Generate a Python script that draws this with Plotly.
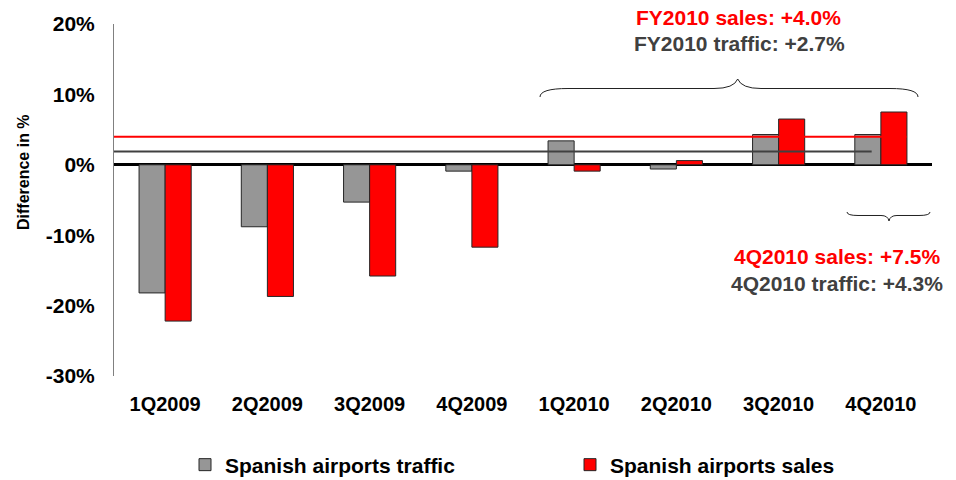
import plotly.graph_objects as go

# ---------------- data ----------------
categories = ["1Q2009", "2Q2009", "3Q2009", "4Q2009", "1Q2010", "2Q2010", "3Q2010", "4Q2010"]
traffic = [-18.2, -8.8, -5.3, -0.9, 3.4, -0.6, 4.3, 4.3]
sales = [-22.2, -18.7, -15.8, -11.7, -0.9, 0.6, 6.5, 7.5]
fy_sales_line = 4.0
fy_traffic_line = 1.9
y_tickvals = [-30, -20, -10, 0, 10, 20]
y_ticktext = ["-30%", "-20%", "-10%", "0%", "10%", "20%"]
series_names = ["Spanish airports traffic", "Spanish airports sales"]
fy_texts = ["FY2010 sales: +4.0%", "FY2010 traffic: +2.7%"]
q4_texts = ["4Q2010 sales: +7.5%", "4Q2010 traffic: +4.3%"]

# ---------------- layout geometry ----------------
W, H = 956, 480
ML, MR, MT, MB = 114, 24, 24, 104
PW, PH = W - ML - MR, H - MT - MB

def px(x):
    return (x - ML) / PW

def py(y):
    return (H - MB - y) / PH

FONT = "Liberation Sans, Arial, sans-serif"
RED = "#FF0000"
DARK = "#404040"

fig = go.Figure()
fig.add_trace(go.Bar(x=categories, y=traffic, name=series_names[0],
                     marker=dict(color="#969696", line=dict(color="#262626", width=1))))
fig.add_trace(go.Bar(x=categories, y=sales, name=series_names[1],
                     marker=dict(color=RED, line=dict(color="#262626", width=1))))

# reference lines (category index coordinates)
fig.add_shape(type="line", xref="x", yref="y", x0=-0.5, x1=7.25,
              y0=fy_sales_line, y1=fy_sales_line, line=dict(color=RED, width=2), layer="above")
fig.add_shape(type="line", xref="x", yref="y", x0=-0.5, x1=6.91,
              y0=fy_traffic_line, y1=fy_traffic_line, line=dict(color=DARK, width=2), layer="above")

def brace_path(pts):
    parts = []
    for cmd, coords in pts:
        s = " ".join(f"{px(a):.5f},{py(b):.5f}" for a, b in coords)
        parts.append(f"{cmd} {s}")
    return " ".join(parts)

big = [("M", [(540, 97)]), ("Q", [(540, 88.5), (568, 88.5)]), ("L", [(714, 88.5)]),
       ("Q", [(734, 88.5), (737.7, 79)]), ("Q", [(741.5, 88.5), (761, 88.5)]),
       ("L", [(890, 88.5)]), ("Q", [(918, 88.5), (918, 97)])]
small = [("M", [(847, 212)]), ("Q", [(847, 215.5), (858, 215.5)]), ("L", [(881, 215.5)]),
         ("Q", [(888, 215.5), (889, 221)]), ("Q", [(890, 215.5), (897, 215.5)]),
         ("L", [(919, 215.5)]), ("Q", [(930, 215.5), (930, 212)])]
for p in (big, small):
    fig.add_shape(type="path", xref="paper", yref="paper", path=brace_path(p),
                  line=dict(color="#222222", width=1))

ann = []
ann.append(dict(text=fy_texts[0], x=px(738), y=py(18), font=dict(color=RED)))
ann.append(dict(text=fy_texts[1], x=px(739), y=py(44), font=dict(color=DARK)))
ann.append(dict(text=q4_texts[0], x=px(837), y=py(256), font=dict(color=RED)))
ann.append(dict(text=q4_texts[1], x=px(837), y=py(283), font=dict(color=DARK)))
for a in ann:
    a.update(xref="paper", yref="paper", xanchor="center", yanchor="middle", showarrow=False)
    a["font"].update(family=FONT, size=21, weight="bold")
    fig.add_annotation(**a)

fig.add_annotation(text="Difference in %", xref="paper", yref="paper", x=px(23), y=py(172),
                   textangle=-90, showarrow=False, xanchor="center", yanchor="middle",
                   font=dict(family=FONT, size=16, weight="bold", color="black"))

fig.update_layout(
    width=W, height=H,
    margin=dict(l=ML, r=MR, t=MT, b=MB, autoexpand=False),
    paper_bgcolor="white", plot_bgcolor="white",
    barmode="group", bargap=0.49, bargroupgap=0,
    font=dict(family=FONT, color="black"),
    showlegend=True,
    legend=dict(orientation="h", x=px(185), y=py(465), xanchor="left", yanchor="middle",
                entrywidth=340, font=dict(family=FONT, size=21, weight="bold", color="black"),
                itemclick=False),
)
fig.update_xaxes(showline=False, showgrid=False, ticks="", ticklabelstandoff=14,
                 tickfont=dict(family=FONT, size=20, weight="bold", color="black"),
                 range=[-0.5, 7.5])
fig.update_yaxes(range=[-30, 20], tickvals=y_tickvals, ticktext=y_ticktext,
                 showgrid=False, showline=True, linecolor="#808080", linewidth=1,
                 zeroline=True, zerolinecolor="black", zerolinewidth=3,
                 ticks="", ticklabelstandoff=14,
                 tickfont=dict(family=FONT, size=21, weight="bold", color="black"))

fig.write_html("out.html", config={"displayModeBar": False},
               post_script="document.body.style.margin='0px';")
